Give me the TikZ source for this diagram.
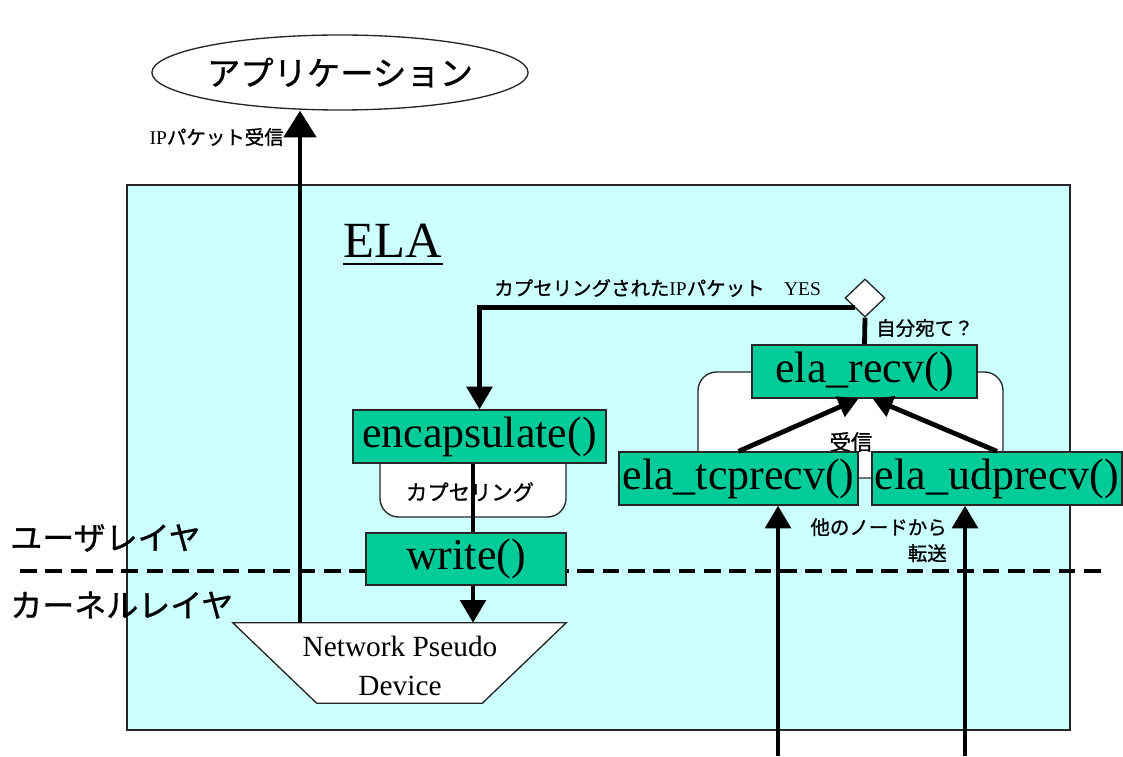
\documentclass[tikz,border=0pt]{standalone}
\usepackage{fontspec}
\setmainfont{Liberation Serif}
\newfontfamily\jp{Noto Sans CJK JP}[FakeBold=1]
\usetikzlibrary{arrows.meta,shapes.geometric,calc}
\definecolor{elabg}{HTML}{CCFFFF}
\definecolor{funcgreen}{HTML}{00CC99}

\begin{document}
\begin{tikzpicture}[x=0.75pt,y=-0.75pt,
  func/.style={draw=black!85,line width=1pt,fill=funcgreen,inner sep=0pt,
    minimum height=39.75pt,font=\fontsize{33}{36}\selectfont},
  flow/.style={line width=3.6pt},
  bigarrow/.style={flow,-{Triangle[length=17pt,width=19pt]}},
  midarrow/.style={flow,-{Triangle[length=15pt,width=16pt]}},
  jplabel/.style={font=\jp\fontsize{14.6}{19.5}\selectfont,inner sep=0pt},
  layerlabel/.style={font=\jp\fontsize{24}{28}\selectfont,inner sep=0pt,anchor=west},
  groupbox/.style={draw=black!85,line width=1pt,fill=white,rounded corners=14pt}]

\useasboundingbox (0,0) rectangle (1123,756);

% ELA region
\node (ela) [draw=black!85,line width=0.8pt,fill=elabg,inner sep=0pt,
  minimum width=707.25pt,minimum height=408.75pt] at (598.5,457.5) {};
\node (elatitle) [font=\fontsize{38}{42}\selectfont,inner sep=0pt] at (393,241) {ELA};
\draw[line width=1.8pt] ($(elatitle.south west)+(0,6)$) -- ($(elatitle.south east)+(0,6)$);

% user / kernel boundary
\coordinate (dl) at (20,571);
\coordinate (dr) at (1105,571);
\draw[line width=3.4pt,dash pattern=on 12.5pt off 6.5pt] (dl) -- (dr);
\node (user) [layerlabel] at (10,538) {ユーザレイヤ};
\node (kernel) [layerlabel] at (10,605) {カーネルレイヤ};

% application
\node (app) [ellipse,draw=black!85,line width=1pt,fill=white,inner sep=0pt,
  minimum width=280.5pt,minimum height=56.25pt,
  font=\jp\fontsize{25}{28}\selectfont] at (340,72.5) {アプリケーション};

% background groups
\draw[groupbox] (698,372) rectangle (1003,478);
\node (recvlbl) [font=\jp\fontsize{16}{19}\selectfont,inner sep=0pt] at (851,442) {受信};
\draw[groupbox] (380,440) rectangle (566,517);
\node (caplbl) [font=\jp\fontsize{16}{19}\selectfont,inner sep=0pt] at (470,492) {カプセリング};

% functions
\node (recv) [func,minimum width=168.75pt] at (864.5,371.5) {ela\_recv()};
\node (tcp) [func,minimum width=179.25pt] at (738.5,478.5) {ela\_tcprecv()};
\node (udp) [func,minimum width=187.5pt] at (997,478.5) {ela\_udprecv()};
\node (enc) [func,minimum width=189.75pt] at (479.5,436.5) {encapsulate()};
\node (wr) [func,minimum width=150pt,minimum height=39pt] at (466,559) {write()};

% decision
\node (dia) [diamond,draw=black!85,line width=1pt,fill=white,inner sep=0pt,
  minimum width=30pt,minimum height=28.5pt] at (865,298) {};

% network pseudo device
\node (npd) [inner sep=0pt,minimum width=249.75pt,minimum height=60pt] at (399.5,663) {};
\draw[draw=black!85,line width=1pt,fill=white] (npd.north west) -- (npd.north east)
  -- ($(npd.south east)+(-84,0)$) -- ($(npd.south west)+(84,0)$) -- cycle;
\node (npdtxt) [align=center,inner sep=0pt,font=\fontsize{22}{29}\selectfont]
  at (400,666) {Network Pseudo\\Device};

% connectors
\coordinate (ipx) at (300,0);
\coordinate (cx) at (473,0);
\coordinate (in1) at (778,756);
\coordinate (in2) at (965,756);

\draw[flow,-{Triangle[length=20pt,width=24pt]}] (npd.north -| ipx) -- (app.south -| ipx);
\node (iplbl) [jplabel,anchor=east] at (284,137) {{\rmfamily IP}パケット受信};

\draw[bigarrow] (dia.south west) -| (enc.north);
\node (yeslbl) [jplabel,anchor=west] at (494,288) {カプセリングされた{\rmfamily IP}パケット　{\rmfamily YES}};

\draw[flow] (dia.south) -- (recv.north);
\node (selflbl) [jplabel,anchor=west] at (876,328) {自分宛て？};

\draw[flow] (enc.south -| cx) -- (wr.north -| cx);
\draw[bigarrow] (wr.south -| cx) -- (npd.north -| cx);

\draw[midarrow] (tcp.north) -- ($(recv.south)+(-6,0)$);
\draw[midarrow] (udp.north) -- ($(recv.south)+(8,0)$);

\draw[bigarrow] (in1) -- (tcp.south -| in1);
\draw[bigarrow] (in2) -- (udp.south -| in2);
\node (fwdlbl) [jplabel,anchor=north east,align=right] at (947,518) {他のノードから\\転送};
\end{tikzpicture}
\end{document}
